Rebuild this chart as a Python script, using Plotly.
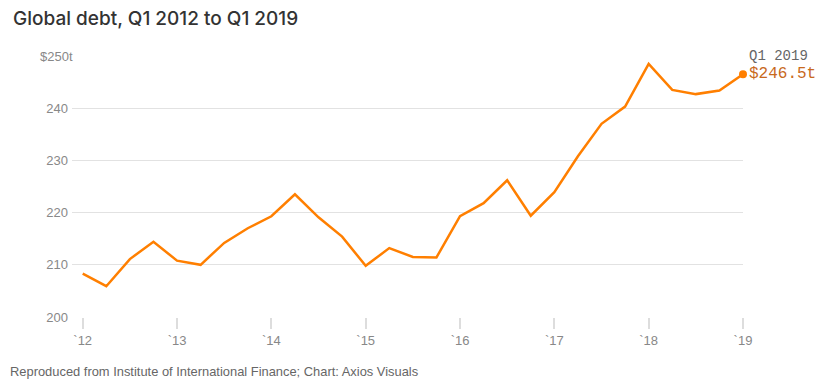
import plotly.graph_objects as go

quarters = [
    "Q1 2012", "Q2 2012", "Q3 2012", "Q4 2012",
    "Q1 2013", "Q2 2013", "Q3 2013", "Q4 2013",
    "Q1 2014", "Q2 2014", "Q3 2014", "Q4 2014",
    "Q1 2015", "Q2 2015", "Q3 2015", "Q4 2015",
    "Q1 2016", "Q2 2016", "Q3 2016", "Q4 2016",
    "Q1 2017", "Q2 2017", "Q3 2017", "Q4 2017",
    "Q1 2018", "Q2 2018", "Q3 2018", "Q4 2018",
    "Q1 2019",
]
debt_trillions = [
    208.3, 205.9, 211.1, 214.4,
    210.8, 210.0, 214.2, 217.0,
    219.3, 223.5, 219.1, 215.4,
    209.8, 213.2, 211.5, 211.4,
    219.3, 221.8, 226.2, 219.4,
    223.9, 230.8, 237.0, 240.3,
    248.5, 243.5, 242.7, 243.4,
    246.5,
]
year_ticks = [2012, 2013, 2014, 2015, 2016, 2017, 2018, 2019]
year_labels = ["`12", "`13", "`14", "`15", "`16", "`17", "`18", "`19"]
y_ticks = [200, 210, 220, 230, 240, 250]
y_labels = ["200", "210", "220", "230", "240", "$250t"]

title_text = "Global debt, Q1 2012 to Q1 2019"
source_text = "Reproduced from Institute of International Finance; Chart: Axios Visuals"

def q_to_num(q):
    qn, yr = q.split()
    return int(yr) + (int(qn[1]) - 1) / 4

x_vals = [q_to_num(q) for q in quarters]

ORANGE = "#ff7f00"
TICK_GRAY = "#888888"

fig = go.Figure()
fig.add_trace(go.Scatter(
    x=x_vals, y=debt_trillions, mode="lines",
    line=dict(color=ORANGE, width=2.5), hoverinfo="skip", showlegend=False,
    cliponaxis=False,
))
fig.add_trace(go.Scatter(
    x=[x_vals[-1]], y=[debt_trillions[-1]], mode="markers",
    marker=dict(color=ORANGE, size=8), hoverinfo="skip", showlegend=False,
    cliponaxis=False,
))

fig.add_annotation(
    x=x_vals[-1], y=debt_trillions[-1], xref="x", yref="y",
    text=quarters[-1], showarrow=False, xanchor="left", yanchor="middle",
    xshift=4, yshift=18,
    font=dict(family="Liberation Mono", size=14, color="#666666"),
)
fig.add_annotation(
    x=x_vals[-1], y=debt_trillions[-1], xref="x", yref="y",
    text="$%.1ft" % debt_trillions[-1], showarrow=False, xanchor="left", yanchor="middle",
    xshift=4, yshift=0,
    font=dict(family="Liberation Mono", size=16, color="#c8691c"),
)

# top tick label placed separately (it sits a little further right)
fig.add_annotation(
    x=0, y=y_ticks[-1], xref="paper", yref="y", text=y_labels[-1],
    showarrow=False, xanchor="right", yanchor="middle", xshift=3,
    font=dict(family="Liberation Sans", size=13, color=TICK_GRAY),
)

# page offset of the figure (body margin)
OFF = 8
W, H = 830 - OFF, 390 - OFF
ml, mt = 72 - OFF, 56 - OFF
mr = W - (742.7 - OFF)
mb = H - (317 - OFF)
pw, ph = W - ml - mr, H - mt - mb

def px_to_paper(xp, yp):
    return ((xp - OFF) - ml) / pw, 1 - ((yp - OFF) - mt) / ph

tx, ty = px_to_paper(11, 18)
fig.add_annotation(
    x=tx, y=ty, xref="paper", yref="paper", text=title_text,
    showarrow=False, xanchor="left", yanchor="middle",
    font=dict(family="Inter", size=19, color="#333333", weight=500),
)
sx, sy = px_to_paper(8, 371)
fig.add_annotation(
    x=sx, y=sy, xref="paper", yref="paper", text=source_text,
    showarrow=False, xanchor="left", yanchor="middle",
    font=dict(family="Liberation Sans", size=12.9, color="#666666"),
)

fig.update_layout(
    width=W, height=H,
    margin=dict(l=ml, r=mr, t=mt, b=mb, pad=0),
    paper_bgcolor="white", plot_bgcolor="white",
    xaxis=dict(
        range=[2012 - 10.7 / 94.3, 2019],
        tickvals=year_ticks, ticktext=year_labels,
        ticks="outside", ticklen=11, tickcolor="#dddddd", tickwidth=1.5,
        showgrid=False, zeroline=False, showline=False,
        tickfont=dict(family="Liberation Sans", size=13, color=TICK_GRAY),
        fixedrange=True,
    ),
    yaxis=dict(
        range=[200, 250],
        tickvals=y_ticks, ticktext=y_labels[:-1] + [""],
        ticks="", ticklabelstandoff=3,
        showgrid=True, gridcolor="#e2e2e2", gridwidth=1.2,
        zeroline=False, showline=False,
        tickfont=dict(family="Liberation Sans", size=13, color=TICK_GRAY),
        fixedrange=True,
    ),
)

fig.write_html("out.html")
